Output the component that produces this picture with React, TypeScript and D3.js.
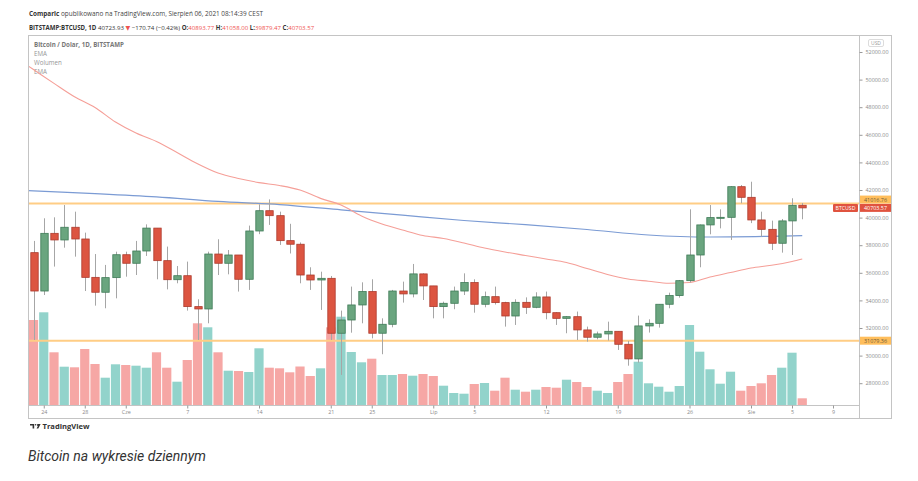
import { axisBottom, axisRight, scaleLinear, scaleUtc, select, line as d3Line, curveMonotoneX, utcDay } from "d3";
import { useEffect, useRef } from "react";

// chart box inside the 918x481 picture
const PLOT = { left: 28, right: 859, top: 37, bottom: 405, axisRight: 892, axisBottom: 419 };
const FONT = "'Open Sans', 'DejaVu Sans', sans-serif";

const firstDay = new Date(Date.UTC(2021, 4, 23));
const lastDay = new Date(Date.UTC(2021, 7, 6));

// OHLC, BITSTAMP:BTCUSD 1D, May 23 - Aug 6 2021
const opens = [
  37460, 34680, 38860, 38380, 39300, 38450, 35670, 34590, 35650, 37310, 36690, 37580, 39240, 36880, 35500, 35790,
  33550, 33380, 37360, 36690, 37290, 35530, 39030, 40500, 40140, 38330, 38070, 35840, 35480, 35600, 31620, 32580,
  33670, 34640, 31620, 32270, 34680, 34470, 35920, 35050, 33550, 33790, 34680, 35290, 33720, 34270, 33840, 32870,
  33860, 33500, 34250, 33110, 32700, 32820, 31860, 31330, 31570, 31760, 30820, 29760, 32150, 32340, 33720, 34350,
  35430, 37290, 39470, 40000, 40020, 42240, 41470, 39830, 39150, 38140, 39760, 40894,
];
const highs = [
  38310, 39950, 40020, 40910, 40430, 38910, 37360, 36570, 37530, 37530, 38310, 39510, 39240, 37900, 36490, 36810,
  34080, 37530, 38430, 37650, 37290, 39420, 40960, 41320, 40430, 39550, 38200, 36400, 36080, 35770, 33260, 35000,
  35310, 35530, 32700, 34760, 35360, 36640, 35960, 35050, 33910, 35000, 35960, 35530, 34640, 35000, 33900, 34080,
  34220, 34590, 34640, 33150, 32870, 33190, 32100, 31740, 32460, 31760, 31060, 32900, 32630, 33720, 34560, 35480,
  40600, 39500, 40910, 40600, 42280, 42360, 42600, 40430, 39780, 39900, 41400, 41058,
];
const lows = [
  31130, 34390, 36450, 37820, 37170, 34680, 33620, 33430, 34150, 35720, 35840, 37220, 35530, 34800, 35240, 33260,
  31130, 32340, 35840, 35890, 34640, 34760, 38800, 39470, 38020, 37400, 35240, 34760, 33310, 31130, 28600, 31660,
  32340, 31250, 30100, 32050, 33840, 34220, 34030, 32700, 32700, 33360, 34390, 33110, 33500, 33700, 32100, 32220,
  33020, 33430, 32630, 32220, 31620, 31130, 31010, 31180, 31090, 30410, 29270, 29490, 31670, 32030, 33430, 34200,
  35300, 36400, 38790, 39220, 38380, 41040, 39600, 38620, 37650, 37460, 37290, 39879,
];
const closes = [
  34680, 38860, 38380, 39300, 38450, 35670, 34590, 35650, 37310, 36690, 37580, 39240, 36880, 35500, 35790, 33550,
  33380, 37360, 36690, 37290, 35530, 39030, 40500, 40140, 38330, 38070, 35840, 35480, 35600, 31620, 32580, 33670,
  34640, 31620, 32270, 34680, 34470, 35920, 35050, 33550, 33790, 34680, 35290, 33720, 34270, 33840, 32870, 33860,
  33500, 34250, 33110, 32700, 32820, 31860, 31330, 31570, 31760, 30820, 29760, 32150, 32340, 33720, 34350, 35430,
  37290, 39470, 40000, 40020, 42240, 41470, 39830, 39150, 38140, 39760, 40890, 40704,
];
// volume, thousands
const volumes = [
  8.5, 9.27, 5.27, 3.83, 3.77, 5.6, 4.1, 2.73, 4.07, 4.0, 3.93, 3.73, 5.27, 3.73, 2.33, 4.5,
  8.17, 7.77, 5.27, 3.43, 3.4, 3.3, 5.67, 3.73, 3.67, 3.27, 3.85, 2.9, 3.67, 7.77, 8.83, 5.3,
  4.27, 4.63, 3.0, 3.0, 3.1, 2.93, 3.1, 2.9, 1.93, 1.2, 1.13, 2.1, 2.2, 1.43, 2.73, 1.53,
  1.33, 1.53, 1.8, 1.73, 2.53, 2.3, 1.8, 1.43, 1.2, 2.3, 3.1, 4.33, 2.17, 1.83, 1.33, 1.9,
  8.0, 5.33, 3.57, 2.13, 3.33, 1.43, 1.9, 2.17, 3.0, 3.73, 5.23, 0.67,
];

// EMA samples: day offset from May 23, value
const emaFastDays = [-1, 0, 2, 4, 6, 8, 10, 12, 14, 16, 18, 20, 22, 24, 26, 28, 30, 32, 34, 36, 38, 40, 42, 44, 46, 48, 50, 52, 54, 56, 58, 60, 62, 64, 66, 68, 70, 72, 74, 75];
const emaFastValues = [
  51230, 50730, 49725, 48754, 47978, 46928, 46131, 45515, 44718, 43906, 43232, 42834, 42537, 42327, 42000, 41392,
  40914, 40117, 39537, 39102, 38704, 38486, 38160, 37798, 37508, 37254, 37001, 36747, 36313, 35878, 35552, 35392,
  35247, 35298, 35696, 36023, 36349, 36544, 36820, 37000,
];
const emaSlowDays = [-1, 0, 6, 12, 18, 24, 30, 36, 42, 48, 54, 60, 66, 72, 75];
const emaSlowValues = [41979, 41943, 41740, 41500, 41174, 40943, 40566, 40175, 39790, 39486, 39138, 38740, 38595, 38646, 38689];

const priceTicks = [28000, 30000, 32000, 34000, 36000, 38000, 40000, 42000, 44000, 46000, 48000, 50000, 52000];
const timeTickDates = ["2021-05-24", "2021-05-28", "2021-06-01", "2021-06-07", "2021-06-14", "2021-06-21", "2021-06-25", "2021-07-01", "2021-07-05", "2021-07-12", "2021-07-19", "2021-07-26", "2021-08-01", "2021-08-05", "2021-08-09"];
const timeTickLabels = ["24", "28", "Cze", "7", "14", "21", "25", "Lip", "5", "12", "19", "26", "Sie", "5", "9"];

const levelHigh = 41016.76;
const levelLow = 31079.36;
const lastPrice = 40703.57;

const UP = { body: "#6aa57f", border: "#3f7b57", vol: "#92d3cb" };
const DOWN = { body: "#dc5541", border: "#ad3b2d", vol: "#f6a7a5" };

const Chart = () => {
  const svgElem = useRef<SVGSVGElement>(null);

  useEffect(() => {
    if (!svgElem.current) {
      return;
    }
    const svg = select(svgElem.current);
    svg.selectAll("g.chart").remove();
    const g = svg.append("g").attr("class", "chart");

    const days = utcDay.range(firstDay, utcDay.offset(lastDay, 1));
    const xScale = scaleUtc()
      .domain([firstDay, new Date(Date.UTC(2021, 7, 9))])
      .range([33.5, 833]);
    const yScale = scaleLinear().domain([28000, 52000]).range([383.2, 52]);
    const vScale = scaleLinear().domain([0, 10]).range([PLOT.bottom, PLOT.bottom - 100]);

    // clip for plot area
    g.append("clipPath")
      .attr("id", "plot-clip")
      .append("rect")
      .attr("x", PLOT.left)
      .attr("y", PLOT.top)
      .attr("width", PLOT.right - PLOT.left)
      .attr("height", PLOT.bottom - PLOT.top);
    const plot = g.append("g").attr("clip-path", "url(#plot-clip)");

    // volume
    plot
      .selectAll("rect.vol")
      .data(days)
      .join("rect")
      .attr("class", "vol")
      .attr("x", (d) => xScale(d) - 4.6)
      .attr("width", 9.2)
      .attr("y", (_, i) => vScale(volumes[i]))
      .attr("height", (_, i) => PLOT.bottom - vScale(volumes[i]))
      .attr("fill", (_, i) => (closes[i] >= opens[i] ? UP.vol : DOWN.vol));

    // support / resistance lines
    [levelHigh, levelLow].forEach((lvl) => {
      plot
        .append("line")
        .attr("x1", PLOT.left)
        .attr("x2", PLOT.right)
        .attr("y1", yScale(lvl))
        .attr("y2", yScale(lvl))
        .attr("stroke", "#ffcd85")
        .attr("stroke-width", 2);
    });

    // EMAs
    const emaLine = d3Line<[number, number]>()
      .x((p) => xScale(utcDay.offset(firstDay, p[0])))
      .y((p) => yScale(p[1]))
      .curve(curveMonotoneX);
    plot
      .append("path")
      .attr("d", emaLine(emaSlowDays.map((d, i) => [d, emaSlowValues[i]])))
      .attr("fill", "none")
      .attr("stroke", "#7b9bd4")
      .attr("stroke-width", 1.2);
    plot
      .append("path")
      .attr("d", emaLine(emaFastDays.map((d, i) => [d, emaFastValues[i]])))
      .attr("fill", "none")
      .attr("stroke", "#f59f98")
      .attr("stroke-width", 1.1);

    // candles
    const candles = plot.selectAll("g.candle").data(days).join("g").attr("class", "candle");
    candles
      .append("line")
      .attr("x1", (d) => Math.round(xScale(d)) + 0.5)
      .attr("x2", (d) => Math.round(xScale(d)) + 0.5)
      .attr("y1", (_, i) => yScale(highs[i]))
      .attr("y2", (_, i) => yScale(lows[i]))
      .attr("stroke", "#a6a6a6")
      .attr("stroke-width", 1);
    candles
      .append("rect")
      .attr("x", (d) => Math.round(xScale(d)) + 0.5 - 3.7)
      .attr("width", 7.4)
      .attr("y", (_, i) => yScale(Math.max(opens[i], closes[i])))
      .attr("height", (_, i) => Math.max(1, Math.abs(yScale(opens[i]) - yScale(closes[i]))))
      .attr("fill", (_, i) => (closes[i] >= opens[i] ? UP.body : DOWN.body))
      .attr("stroke", (_, i) => (closes[i] >= opens[i] ? UP.border : DOWN.border))
      .attr("stroke-width", 0.8);

    // frame
    g.append("rect")
      .attr("x", PLOT.left + 0.5)
      .attr("y", PLOT.top - 1.5)
      .attr("width", PLOT.axisRight - PLOT.left - 1)
      .attr("height", PLOT.axisBottom - PLOT.top + 1)
      .attr("fill", "none")
      .attr("stroke", "#c4c4c4");
    g.append("line")
      .attr("x1", PLOT.right + 0.5)
      .attr("x2", PLOT.right + 0.5)
      .attr("y1", PLOT.top - 1.5)
      .attr("y2", PLOT.axisBottom - 0.5)
      .attr("stroke", "#c4c4c4");
    g.append("line")
      .attr("x1", PLOT.left)
      .attr("x2", PLOT.right)
      .attr("y1", PLOT.bottom + 0.5)
      .attr("y2", PLOT.bottom + 0.5)
      .attr("stroke", "#c4c4c4");

    // price axis
    const yAxis = axisRight(yScale)
      .tickValues(priceTicks)
      .tickSize(3)
      .tickPadding(3)
      .tickFormat((v) => (v as number).toFixed(2));
    const ya = g.append("g").attr("transform", `translate(${PLOT.right + 0.5}, 0)`).call(yAxis);
    ya.select(".domain").remove();
    ya.selectAll("line").attr("stroke", "#999");
    ya.selectAll("text").attr("fill", "#8a8a8a").style("font-size", "5.4px").style("font-family", FONT);

    // time axis
    const xAxis = axisBottom(xScale)
      .tickValues(timeTickDates.map((s) => new Date(s + "T00:00:00Z")))
      .tickSize(3)
      .tickPadding(2)
      .tickFormat((_, i) => timeTickLabels[i]);
    const xa = g.append("g").attr("transform", `translate(0, ${PLOT.bottom + 0.5})`).call(xAxis);
    xa.select(".domain").remove();
    xa.selectAll("line").attr("stroke", "#999");
    xa.selectAll("text").attr("fill", "#8a8a8a").style("font-size", "5.4px").style("font-family", FONT);

    // USD badge
    g.append("rect")
      .attr("x", 868.5)
      .attr("y", 39.5)
      .attr("width", 15)
      .attr("height", 7)
      .attr("rx", 1.5)
      .attr("fill", "#fff")
      .attr("stroke", "#dcdcdc");
    g.append("text")
      .attr("x", 876)
      .attr("y", 43)
      .attr("text-anchor", "middle")
      .attr("dominant-baseline", "central")
      .style("font-size", "5px")
      .style("font-family", FONT)
      .attr("fill", "#9a9a9a")
      .text("USD");

    // price labels on the axis
    const tag = (yc: number, fill: string, color: string, label: string) => {
      g.append("rect")
        .attr("x", PLOT.right + 1)
        .attr("y", yc - 4)
        .attr("width", 31)
        .attr("height", 8)
        .attr("fill", fill);
      g.append("text")
        .attr("x", PLOT.right + 5)
        .attr("y", yc)
        .attr("dominant-baseline", "central")
        .style("font-size", "5.4px")
        .style("font-family", FONT)
        .attr("fill", color)
        .text(label);
    };
    tag(yScale(levelHigh) - 4, "#ffbe5c", "#6b5a3a", levelHigh.toFixed(2));
    tag(yScale(lastPrice), "#e0533f", "#fff", lastPrice.toFixed(2));
    tag(yScale(levelLow), "#ffbe5c", "#6b5a3a", levelLow.toFixed(2));
    g.append("rect")
      .attr("x", 833)
      .attr("y", yScale(lastPrice) - 4)
      .attr("width", 25)
      .attr("height", 8)
      .attr("rx", 1)
      .attr("fill", "#e0533f");
    g.append("text")
      .attr("x", 845.5)
      .attr("y", yScale(lastPrice))
      .attr("text-anchor", "middle")
      .attr("dominant-baseline", "central")
      .style("font-size", "5.2px")
      .style("font-family", FONT)
      .attr("fill", "#fff")
      .text("BTCUSD");
  }, []);

  const small = { fontFamily: FONT, fontSize: "6.4px" };
  const red = "#ef5350";
  const legend = { fontFamily: FONT, fontSize: "6.2px" };

  return (
    <svg
      ref={svgElem}
      width={918}
      height={481}
      style={{ position: "absolute", left: 0, top: 0, background: "#fff" }}
    >
      <text x={29} y={16} style={small} fill="#444">
        <tspan fontWeight="bold" fill="#333">Comparic</tspan>
        <tspan> opublikowano na TradingView.com, Sierpień 06, 2021 08:14:39 CEST</tspan>
      </text>
      <text x={29} y={30} style={{ fontFamily: FONT, fontSize: "6.1px" }} fill="#333">
        <tspan fontWeight="bold">BITSTAMP:BTCUSD, 1D</tspan>
        <tspan> 40723.93 </tspan>
        <tspan fill={red}>▼</tspan>
        <tspan> −170.74 (−0.42%) </tspan>
        <tspan fontWeight="bold">O:</tspan>
        <tspan fill={red}>40893.77 </tspan>
        <tspan fontWeight="bold">H:</tspan>
        <tspan fill={red}>41058.00 </tspan>
        <tspan fontWeight="bold">L:</tspan>
        <tspan fill={red}>39879.47 </tspan>
        <tspan fontWeight="bold">C:</tspan>
        <tspan fill={red}>40703.57</tspan>
      </text>

      <text x={34} y={46.5} style={legend} fontWeight="bold" fill="#777">Bitcoin / Dolar, 1D, BITSTAMP</text>
      <text x={34} y={55.5} style={legend} fill="#959595">EMA</text>
      <text x={34} y={64.5} style={legend} fill="#959595">Wolumen</text>
      <text x={34} y={73.5} style={legend} fill="#959595">EMA</text>

      {/* TradingView mark */}
      <g transform="translate(30, 424)" fill="#333">
        <path d="M0 0 H4.2 V4.6 H2.6 V1.5 H0 Z" />
        <circle cx={5.6} cy={0.8} r={0.8} />
        <path d="M7.2 0 H10.6 L8.3 4.6 H6.6 L7.9 2 H7.2 Z" />
      </g>
      <text x={42.5} y={428.7} style={{ fontFamily: FONT, fontSize: "7.6px", fontWeight: "bold" }} fill="#333">
        TradingView
      </text>

      <text x={28} y={461} style={{ fontFamily: "Roboto, sans-serif", fontSize: "14px", fontStyle: "italic" }} fill="#333">
        Bitcoin na wykresie dziennym
      </text>
    </svg>
  );
};

export default function App() {
  return <Chart />;
}
